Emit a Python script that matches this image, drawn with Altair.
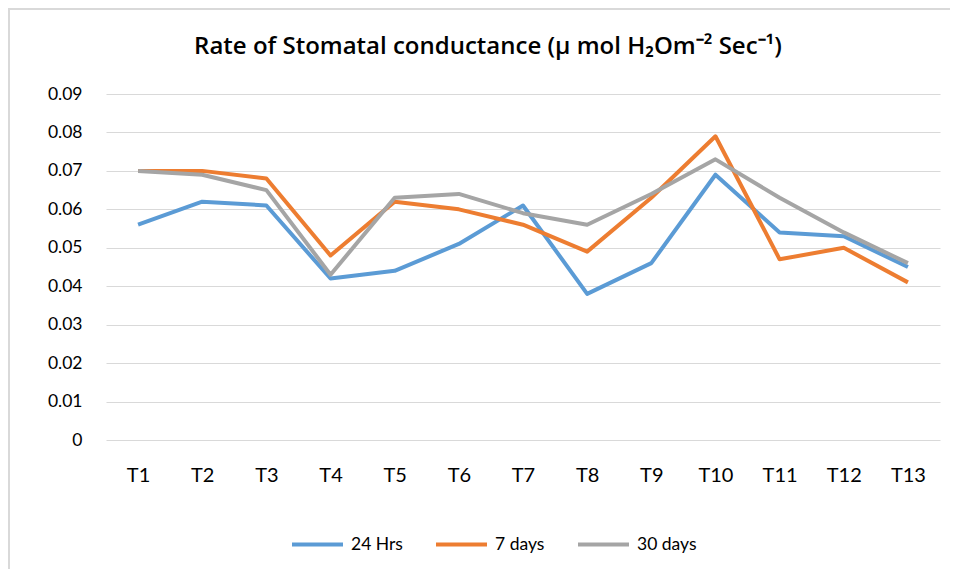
import altair as alt
import pandas as pd

treatments = ["T1", "T2", "T3", "T4", "T5", "T6", "T7", "T8", "T9", "T10", "T11", "T12", "T13"]
series_names = ["24 Hrs", "7 days", "30 days"]
hrs24 = [0.056, 0.062, 0.061, 0.042, 0.044, 0.051, 0.061, 0.038, 0.046, 0.069, 0.054, 0.053, 0.045]
days7 = [0.070, 0.070, 0.068, 0.048, 0.062, 0.060, 0.056, 0.049, 0.063, 0.079, 0.047, 0.050, 0.041]
days30 = [0.070, 0.069, 0.065, 0.043, 0.063, 0.064, 0.059, 0.056, 0.064, 0.073, 0.063, 0.054, 0.046]
colors = ["#5B9BD5", "#ED7D31", "#A5A5A5"]
y_ticks = [0, 0.01, 0.02, 0.03, 0.04, 0.05, 0.06, 0.07, 0.08, 0.09]
title_text = "Rate of Stomatal conductance (µ mol H₂Om⁻² Sec⁻¹)"

rows = []
for name, vals in zip(series_names, [hrs24, days7, days30]):
    for t, v in zip(treatments, vals):
        rows.append({"Treatment": t, "Series": name, "Value": v})
df = pd.DataFrame(rows)

FONT = "Lato"

lines = alt.Chart(df).mark_line(strokeWidth=4, strokeJoin="round").encode(
    x=alt.X("Treatment:N", sort=treatments,
            scale=alt.Scale(type="point", padding=0.5),
            axis=alt.Axis(title=None, labelAngle=0, labelFontSize=20, labelFont=FONT,
                          labelColor="#000", labelPadding=25, ticks=False, domain=False,
                          grid=False)),
    y=alt.Y("Value:Q", scale=alt.Scale(domain=[0, 0.09], nice=False),
            axis=alt.Axis(title=None, values=y_ticks, labelFontSize=17.5, labelFont=FONT,
                          labelColor="#000", labelPadding=24, ticks=False, domain=False,
                          gridColor="#d9d9d9", gridWidth=1,
                          labelExpr="datum.value == 0 ? '0' : format(datum.value, '.2f')")),
    color=alt.Color("Series:N", sort=series_names,
                    scale=alt.Scale(domain=series_names, range=colors),
                    legend=alt.Legend(title=None, orient="none", legendX=184, legendY=423,
                                      direction="horizontal", symbolType="stroke",
                                      symbolSize=2601, symbolStrokeWidth=4,
                                      labelFontSize=17.5, labelFont=FONT, labelColor="#000",
                                      columnPadding=25, labelOffset=6)),
    order=alt.Order("idx:Q"),
).transform_calculate(idx="indexof(" + str(treatments) + ", datum.Treatment)")

one = pd.DataFrame({"a": [0]})

border = alt.Chart(one).mark_rect(
    fillOpacity=0, stroke="#d9d9d9", strokeWidth=2
).encode(x=alt.value(-97), x2=alt.value(900), y=alt.value(-85), y2=alt.value(520))

title = alt.Chart(one).mark_text(
    font="Open Sans", fontSize=24, fontWeight=600, color="#000", align="center",
    baseline="alphabetic"
).encode(x=alt.value(382), y=alt.value(-40), text=alt.value(title_text))

chart = alt.layer(border, title, lines).properties(
    width=834, height=346,
    padding={"left": 98, "top": 86, "right": 10, "bottom": 129},
    autosize=alt.AutoSizeParams(type="none"),
    background="white",
).configure_view(stroke="transparent", strokeWidth=0)

chart.save("out.html", embed_options={"renderer": "svg", "actions": False})
